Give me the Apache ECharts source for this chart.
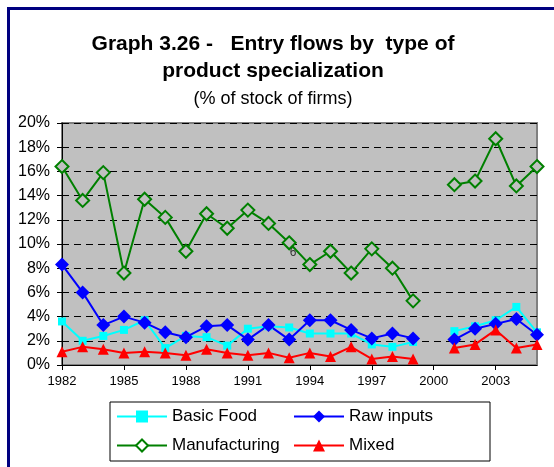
<!DOCTYPE html>
<html>
<head>
<meta charset="utf-8">
<script src="https://cdn.jsdelivr.net/npm/echarts@6/dist/echarts.min.js"></script>
<style>
  html, body { margin: 0; padding: 0; background: #fff; }
  #chart { width: 554px; height: 467px; }
</style>
</head>
<body>
<div id="chart"></div>
<script>
const years = ['1982', '1983', '1984', '1985', '1986', '1987', '1988', '1989', '1990', '1991', '1992', '1993',
  '1994', '1995', '1996', '1997', '1998', '1999', '2000', '2001', '2002', '2003', '2004', '2005']

const basicFood = [3.6, 2.0, 2.4, 2.9, 3.7, 1.4, 2.4, 2.3, 1.6, 3.0, 3.2, 3.1,
  2.6, 2.6, 2.6, 1.7, 1.5, 1.9, null, 2.8, 3.2, 3.7, 4.8, 2.7]
const rawInputs = [8.3, 6.0, 3.3, 4.0, 3.5, 2.7, 2.3, 3.2, 3.3, 2.1, 3.3, 2.1,
  3.7, 3.7, 2.9, 2.2, 2.6, 2.2, null, 2.1, 3.0, 3.4, 3.8, 2.5]
const manufacturing = [16.4, 13.6, 15.9, 7.6, 13.7, 12.2, 9.4, 12.5, 11.3, 12.8, 11.7, 10.1,
  8.3, 9.4, 7.6, 9.6, 8.0, 5.3, null, 14.9, 15.2, 18.7, 14.8, 16.4]
const mixed = [1.1, 1.5, 1.3, 1.0, 1.1, 1.0, 0.8, 1.3, 1.0, 0.8, 1.0, 0.6,
  1.0, 0.7, 1.5, 0.5, 0.7, 0.5, null, 1.4, 1.7, 2.9, 1.4, 1.7]

const font = 'Liberation Sans, Arial, sans-serif'

const chart = echarts.init(document.getElementById('chart'))

const option = {
  backgroundColor: '#fff',
  animation: false,
  title: {
    text: 'Graph 3.26 -   Entry flows by  type of\nproduct specialization',
    subtext: '(% of stock of firms)',
    left: 268, textAlign: 'center', top: 26,
    itemGap: 5,
    textStyle: { fontFamily: font, fontSize: 21, fontWeight: 'bold', color: '#000', lineHeight: 27 },
    subtextStyle: { fontFamily: font, fontSize: 18, color: '#000' }
  },
  legend: {
    left: 110, top: 402,
    orient: 'horizontal',
    width: 350,
    padding: [5, 30, 6, 6],
    borderColor: '#000', borderWidth: 1,
    itemWidth: 50, itemHeight: 15, itemGap: 10,
    textStyle: { fontFamily: font, fontSize: 17, color: '#000', width: 111, lineHeight: 19 },
    data: [
      { name: 'Basic Food' },
      { name: 'Raw inputs' },
      { name: 'Manufacturing', itemStyle: { color: '#fff' } },
      { name: 'Mixed' }
    ]
  },
  grid: { left: 62, right: 17, top: 123, bottom: 102, show: true, backgroundColor: '#c0c0c0', borderColor: '#808080', borderWidth: 2 },
  xAxis: {
    type: 'category', data: years, boundaryGap: false,
    axisLine: { lineStyle: { color: '#000', width: 1 } },
    axisTick: { interval: 2, length: 5, lineStyle: { color: '#000' } },
    axisLabel: { interval: 2, color: '#000', fontFamily: font, fontSize: 13, margin: 10 }
  },
  yAxis: {
    type: 'value', min: 0, max: 20, interval: 2,
    axisLine: { show: true, lineStyle: { color: '#000', width: 1 } },
    axisTick: { show: true, length: 5, lineStyle: { color: '#000' } },
    axisLabel: { formatter: '{value}%', color: '#000', fontFamily: font, fontSize: 16, margin: 12 },
    splitLine: { show: true, lineStyle: { color: '#000', type: [7, 5], width: 1 } }
  },
  series: [
    {
      name: 'Basic Food', type: 'line', data: basicFood,
      symbol: 'rect', symbolSize: 8, showAllSymbol: true,
      lineStyle: { color: '#00ffff', width: 2 },
      itemStyle: { color: '#00ffff' }
    },
    {
      name: 'Raw inputs', type: 'line', data: rawInputs,
      symbol: 'diamond', symbolSize: 14, showAllSymbol: true,
      lineStyle: { color: '#0000ff', width: 2 },
      itemStyle: { color: '#0000ff' }
    },
    {
      name: 'Manufacturing', type: 'line', data: manufacturing,
      symbol: 'diamond', symbolSize: 13, showAllSymbol: true,
      lineStyle: { color: '#008000', width: 2 },
      itemStyle: { color: '#c0c0c0', borderColor: '#008000', borderWidth: 2 }
    },
    {
      name: 'Mixed', type: 'line', data: mixed,
      symbol: 'triangle', symbolSize: 11, showAllSymbol: true,
      lineStyle: { color: '#ff0000', width: 2 },
      itemStyle: { color: '#ff0000' }
    }
  ],
  graphic: [
    { type: 'rect', shape: { x: 8.5, y: 8.5, width: 700, height: 700 }, style: { fill: null, stroke: '#000080', lineWidth: 3 }, silent: true },
    { type: 'text', x: 293, y: 253, style: { text: '6', fill: '#333', font: '12px ' + font, textAlign: 'center', textVerticalAlign: 'middle' } }
  ]
}

chart.setOption(option)
window.addEventListener('resize', () => chart.resize())
</script>
</body>
</html>
